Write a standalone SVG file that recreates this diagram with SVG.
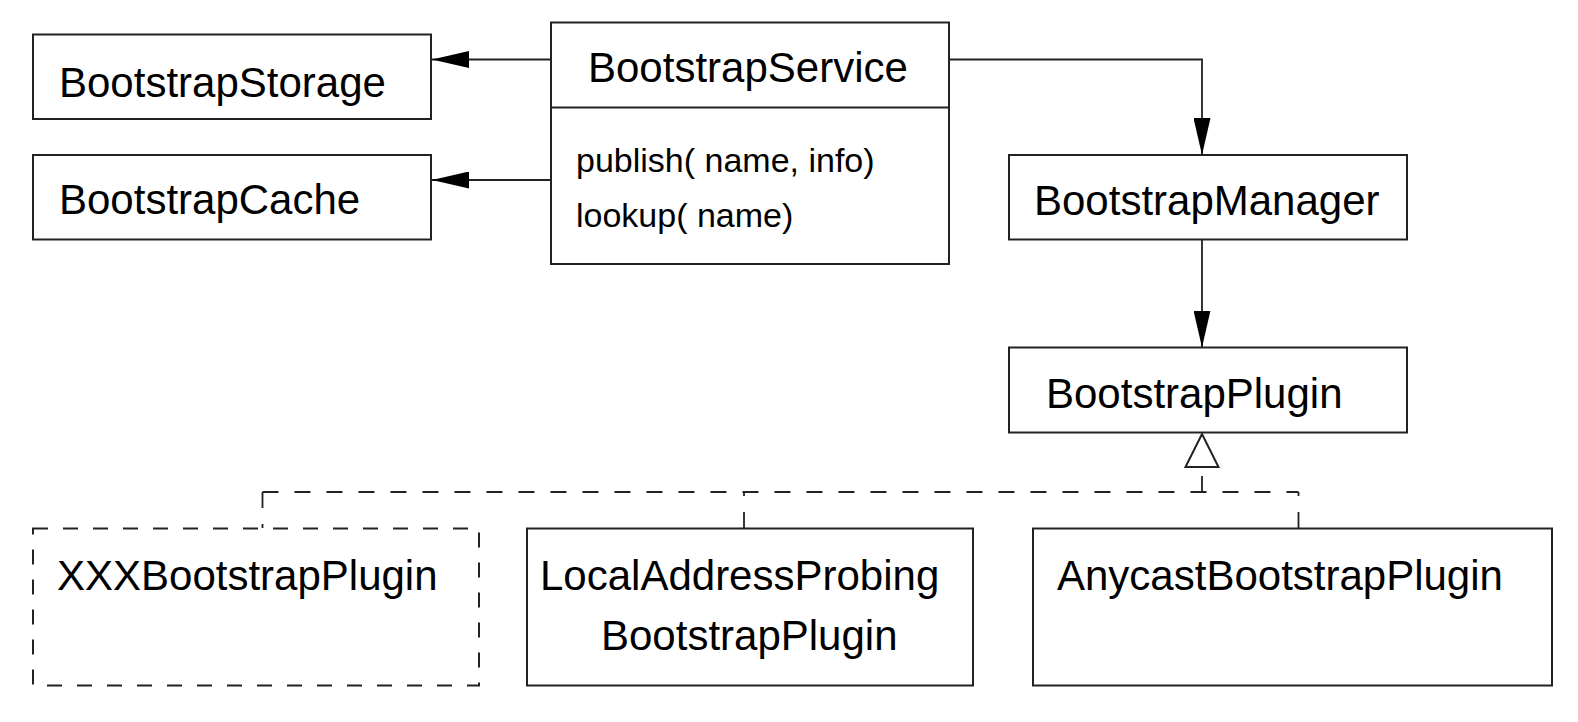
<svg xmlns="http://www.w3.org/2000/svg" width="1578" height="722" viewBox="0 0 1578 722">
<style>
.box{fill:#fff;stroke:#222;stroke-width:2}
.dbox{fill:#fff;stroke:#222;stroke-width:2;stroke-dasharray:15 15}
.t{font-family:"Liberation Sans",Arial,Helvetica,sans-serif;font-size:42px;fill:#000}
.m{font-family:"Liberation Sans",Arial,Helvetica,sans-serif;font-size:34px;fill:#000}
.c{fill:none;stroke:#222;stroke-width:1.8}
.dc{fill:none;stroke:#222;stroke-width:1.8;stroke-dasharray:16 16}
</style>
<defs>
<marker id="arr" markerUnits="userSpaceOnUse" viewBox="0 0 37 17" refX="37" refY="8.5" markerWidth="37" markerHeight="17" orient="auto">
<path d="M0,0 L37,8.5 L0,17 Z" fill="#000" stroke="none"/>
</marker>
<marker id="tri" markerUnits="userSpaceOnUse" viewBox="-2 -2 37 37" refX="33" refY="16.5" markerWidth="37" markerHeight="37" orient="auto">
<path d="M0,0 L33,16.5 L0,33 Z" fill="#fff" stroke="#222" stroke-width="2" stroke-dasharray="none"/>
</marker>
</defs>
<g id="connectors">
<path class="c" d="M551,59.5 H432" marker-end="url(#arr)"/>
<path class="c" d="M551,180 H432" marker-end="url(#arr)"/>
<path class="c" d="M949,59.5 H1202 V155" marker-end="url(#arr)"/>
<path class="c" d="M1202,239.5 V347.5" marker-end="url(#arr)"/>
<path class="dc" d="M1202,492 V467"/>
<path class="c" d="M1202,468 V434" marker-end="url(#tri)" stroke="none"/>
<path class="dc" d="M262.5,492 H1298.5"/>
<path class="dc" d="M262.5,492 V528"/>
<path class="dc" d="M744,528 V492"/>
<path class="dc" d="M1298.5,528 V492"/>
</g>
<g id="BootstrapStorage">
<rect class="box" x="33" y="34.5" width="398" height="84.5"/>
<text class="t" x="59" y="97">BootstrapStorage</text>
</g>
<g id="BootstrapCache">
<rect class="box" x="33" y="155" width="398" height="84.5"/>
<text class="t" x="59" y="213.5">BootstrapCache</text>
</g>
<g id="BootstrapService">
<rect class="box" x="551" y="22.5" width="398" height="241.5"/>
<line class="c" x1="551" y1="107.5" x2="949" y2="107.5" style="stroke-width:2"/>
<text class="t" x="588" y="82">BootstrapService</text>
<text class="m" x="576" y="171.5">publish( name, info)</text>
<text class="m" x="576" y="226.5">lookup( name)</text>
</g>
<g id="BootstrapManager">
<rect class="box" x="1009" y="155" width="398" height="84.5"/>
<text class="t" x="1034" y="215">BootstrapManager</text>
</g>
<g id="BootstrapPlugin">
<rect class="box" x="1009" y="347.5" width="398" height="85"/>
<text class="t" x="1046" y="408">BootstrapPlugin</text>
</g>
<g id="XXXBootstrapPlugin">
<rect class="dbox" x="33" y="528.5" width="446" height="157"/>
<text class="t" x="57" y="590">XXXBootstrapPlugin</text>
</g>
<g id="LocalAddressProbingBootstrapPlugin">
<rect class="box" x="527" y="528.5" width="446" height="157"/>
<text class="t" x="540" y="590">LocalAddressProbing</text>
<text class="t" x="601" y="650">BootstrapPlugin</text>
</g>
<g id="AnycastBootstrapPlugin">
<rect class="box" x="1033" y="528.5" width="519" height="157"/>
<text class="t" x="1057" y="590">AnycastBootstrapPlugin</text>
</g>
</svg>
